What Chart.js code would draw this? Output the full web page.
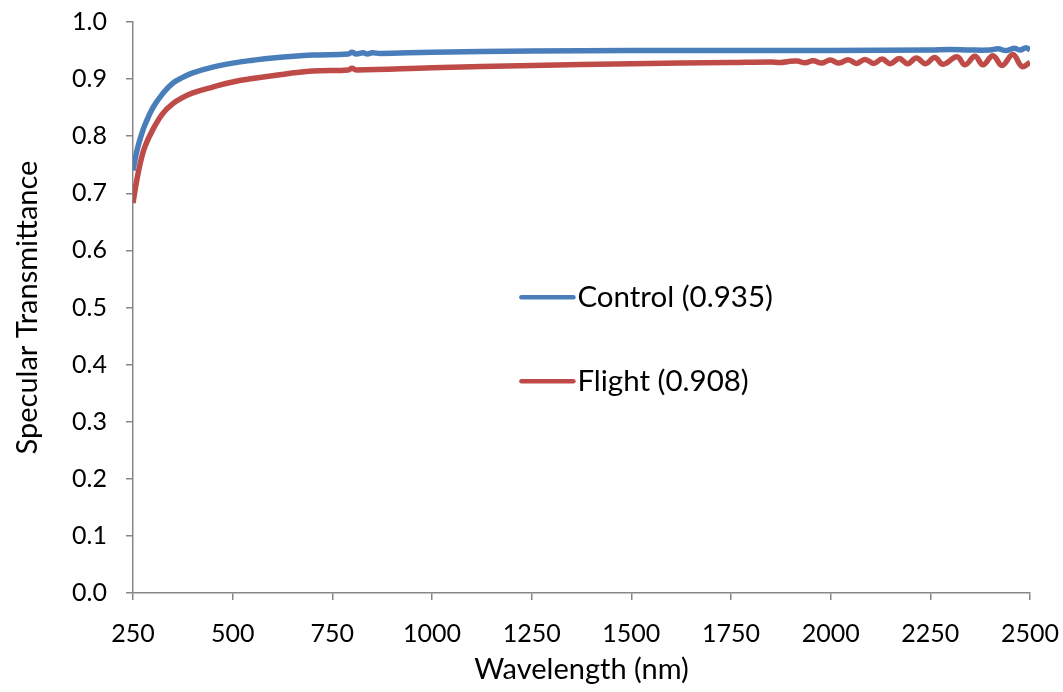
<!DOCTYPE html>
<html>
<head>
<meta charset="utf-8">
<script src="https://cdn.jsdelivr.net/npm/chart.js@4/dist/chart.umd.min.js"></script>
<style>
  html, body { margin: 0; padding: 0; background: #fff; }
  #wrap { width: 1063px; height: 692px; }
</style>
</head>
<body>
<div id="wrap"><canvas id="grafico"></canvas></div>
<script>
// wavelengths (nm)
var controlNm = [250, 260, 270, 280, 300, 325, 350, 375, 400, 450, 500, 550, 600, 700,
  790, 799, 810, 827, 838, 850, 870, 1000, 1250, 1500, 1750, 2000, 2250, 2300, 2350,
  2400, 2420, 2440, 2460, 2475, 2490, 2500];
var controlT = [0.740, 0.775, 0.800, 0.820, 0.850, 0.875, 0.893, 0.903, 0.911, 0.921, 0.928,
  0.933, 0.937, 0.942, 0.944, 0.947, 0.944, 0.946, 0.944, 0.946, 0.945, 0.947, 0.949,
  0.950, 0.950, 0.950, 0.951, 0.952, 0.951, 0.951, 0.953, 0.950, 0.954, 0.951, 0.955, 0.951];

var flightNm = [250, 260, 270, 280, 300, 325, 350, 375, 400, 450, 500, 550, 600, 700,
  790, 799, 810, 1000, 1250, 1500, 1750, 1850, 1875, 1895, 1916, 1936, 1956, 1978, 1999,
  2021, 2044, 2065, 2086, 2108, 2129, 2150, 2172, 2193, 2215, 2238, 2261, 2282, 2317,
  2337, 2362, 2382, 2407, 2430, 2457, 2480, 2500];
var flightT = [0.683, 0.725, 0.758, 0.782, 0.812, 0.840, 0.857, 0.868, 0.876, 0.886, 0.895,
  0.901, 0.906, 0.914, 0.916, 0.919, 0.916, 0.920, 0.924, 0.927, 0.929, 0.930, 0.929,
  0.931, 0.9315, 0.9285, 0.932, 0.928, 0.9335, 0.928, 0.934, 0.9275, 0.9345, 0.9275,
  0.935, 0.927, 0.936, 0.927, 0.937, 0.927, 0.938, 0.926, 0.939, 0.925, 0.940, 0.925,
  0.941, 0.924, 0.943, 0.922, 0.929];

var seriesNames = ['Control (0.935)', 'Flight (0.908)'];
var xTicks = [250, 500, 750, 1000, 1250, 1500, 1750, 2000, 2250, 2500];
var yTicks = [0, 0.1, 0.2, 0.3, 0.4, 0.5, 0.6, 0.7, 0.8, 0.9, 1.0];

function pares(xs, ys) {
  var out = [];
  for (var i = 0; i < xs.length; i++) out.push({ x: xs[i], y: ys[i] });
  return out;
}

var fonte = 'Lato, "Open Sans", sans-serif';
var cinza = '#878787';

// legend drawn inside the plot, like the original
var legendaInterna = {
  id: 'legendaInterna',
  afterDatasetsDraw: function(chart) {
    var ctx = chart.ctx;
    var a = chart.chartArea;
    var x0 = a.left + (a.right - a.left) * 0.433;
    var ys = [a.top + (a.bottom - a.top) * 0.482, a.top + (a.bottom - a.top) * 0.629];
    ctx.save();
    chart.data.datasets.forEach(function(ds, i) {
      ctx.strokeStyle = ds.borderColor;
      ctx.lineWidth = 4.5;
      ctx.lineCap = 'round';
      ctx.beginPath();
      ctx.moveTo(x0, ys[i]);
      ctx.lineTo(x0 + 52, ys[i]);
      ctx.stroke();
      ctx.fillStyle = '#000';
      ctx.font = '29.5px ' + fonte;
      ctx.textBaseline = 'middle';
      ctx.fillText(ds.label, x0 + 56, ys[i]);
    });
    ctx.restore();
  }
};

var grafico = new Chart(document.getElementById('grafico'), {
  type: 'line',
  data: {
    datasets: [{
      label: seriesNames[0],
      data: pares(controlNm, controlT),
      borderColor: '#4a7ebb',
      borderWidth: 5.5,
      pointRadius: 0,
      tension: 0.4,
      fill: false
    }, {
      label: seriesNames[1],
      data: pares(flightNm, flightT),
      borderColor: '#be4b48',
      borderWidth: 5.5,
      pointRadius: 0,
      tension: 0.4,
      fill: false
    }]
  },
  options: {
    responsive: true,
    maintainAspectRatio: false,
    animation: false,
    layout: { padding: { left: 0, right: 33, top: 22, bottom: 0 } },
    plugins: {
      legend: { display: false },
      tooltip: { enabled: false }
    },
    scales: {
      x: {
        type: 'linear',
        min: 250,
        max: 2500,
        afterBuildTicks: function(s) { s.ticks = xTicks.map(function(v) { return { value: v }; }); },
        afterFit: function(s) { s.height = 99; s.paddingLeft = 0; s.paddingRight = 0; },
        border: { display: true, color: cinza, width: 1.5 },
        grid: { drawOnChartArea: false, drawTicks: true, tickLength: 7, color: cinza, lineWidth: 1.5 },
        ticks: {
          color: '#000', font: { family: fonte, size: 25 }, padding: 19, maxRotation: 0,
          callback: function(v) { return String(v); }
        },
        title: { display: true, text: 'Wavelength (nm)', color: '#000', font: { family: fonte, size: 29 }, padding: { top: 0, bottom: 5 } }
      },
      y: {
        min: 0,
        max: 1,
        afterBuildTicks: function(s) { s.ticks = yTicks.map(function(v) { return { value: v }; }); },
        afterFit: function(s) { s.width = 133; s.paddingTop = 0; s.paddingBottom = 0; },
        border: { display: true, color: cinza, width: 1.5 },
        grid: { drawOnChartArea: false, drawTicks: true, tickLength: 7, color: cinza, lineWidth: 1.5 },
        ticks: {
          color: '#000',
          font: { family: fonte, size: 25 },
          padding: 19,
          callback: function(v) { return Number(v).toFixed(1); }
        },
        title: { display: true, text: 'Specular Transmittance', color: '#000', font: { family: fonte, size: 29 }, padding: { top: 10, bottom: 0 } }
      }
    }
  },
  plugins: [legendaInterna]
});
</script>
</body>
</html>
